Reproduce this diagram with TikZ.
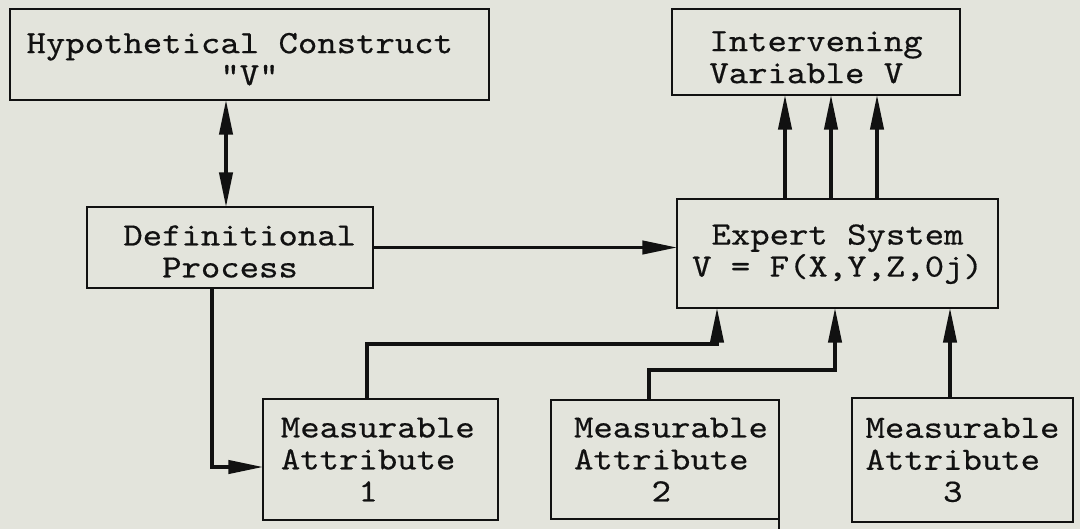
\documentclass[tikz,border=0pt]{standalone}
\usepackage{fontspec}
\usetikzlibrary{arrows.meta}
\newfontfamily\tw{lmmono10-regular}[Extension=.otf,FakeStretch=1.135,FakeBold=0.45]
\definecolor{bg}{RGB}{227,228,220}
\definecolor{ink}{RGB}{17,17,17}
\begin{document}
\begin{tikzpicture}[x=0.75pt,y=-0.75pt,
  box/.style={draw=ink, line width=2pt, inner sep=0pt, outer sep=0pt},
  txt/.style={inner sep=0pt, outer sep=0pt, text=ink,
    font={\tw\fontsize{24.4pt}{24pt}\selectfont}},
  conn/.style={draw=ink, line width=2.4pt, -{Triangle[length=26pt,width=10pt]}},
  dbl/.style={draw=ink, line width=2.4pt, {Triangle[length=26pt,width=10pt]}-{Triangle[length=26pt,width=10pt]}},
  plain/.style={draw=ink, line width=2pt}]
\useasboundingbox (0,0) rectangle (1080,529);
\fill[bg] (0,0) rectangle (1080,529);

% boxes
\node[box, minimum width=359.25pt, minimum height=68.25pt] (hyp) at (249.5,54.5) {};
\node[box, minimum width=214.5pt, minimum height=60.75pt] (def) at (230,247.5) {};
\node[box, minimum width=216pt, minimum height=64.5pt] (int) at (816,52) {};
\node[box, minimum width=240.75pt, minimum height=81.75pt] (exp) at (837.5,253.5) {};
\node[box, minimum width=176.25pt, minimum height=90.75pt] (ma1) at (380.5,459.5) {};
\node[box, minimum width=171pt, minimum height=89.25pt] (ma2) at (665,459.5) {};
\node[box, minimum width=165.75pt, minimum height=93pt] (ma3) at (962.5,460) {};

% texts
\node[txt, align=center] (hypt) at ([yshift=-3.5pt]hyp.center)
  {Hypothetical Construct\hphantom{X}\\"V"};
\node[txt, align=center] (deft) at ([yshift=-3pt]def.center)
  {\hphantom{X}Definitional\\Process};
\node[txt, align=left] (intt) at ([yshift=-4pt]int.center)
  {Intervening\\Variable V};
\node[txt, align=center] (expt) at ([yshift=-0.5pt]exp.center)
  {Expert System\\V = F(X,Y,Z,0j)};
\node[txt, align=left] (ma1t) at ([xshift=-2pt]ma1.center)
  {Measurable\\Attribute\\\hphantom{XXXX}1};
\node[txt, align=left] (ma2t) at ([xshift=4.5pt]ma2.center)
  {Measurable\\Attribute\\\hphantom{XXXX}2};
\node[txt, align=left] (ma3t) at (ma3.center)
  {Measurable\\Attribute\\\hphantom{XXXX}3};

% connectors
\draw[dbl] (226,0 |- hyp.south) -- (226,0 |- def.north);
\draw[conn] (def.east) -- (def.east -| exp.west);
\draw[conn] (212,0 |- def.south) |- (ma1.west |- 0,467);
\draw[conn] (367,0 |- ma1.north) -- (367,344) -- (717,344) -- (717,0 |- exp.south);
\draw[conn] (649,0 |- ma2.north) -- (649,370) -- (835,370) -- (835,0 |- exp.south);
\draw[conn] (950,0 |- ma3.north) -- (950,0 |- exp.south);
\draw[conn] (785,0 |- exp.north) -- (785,0 |- int.south);
\draw[conn] (831,0 |- exp.north) -- (831,0 |- int.south);
\draw[conn] (877,0 |- exp.north) -- (877,0 |- int.south);
\coordinate (cut) at (779,529);
\draw[plain] (ma2.south east) -- (cut);
\end{tikzpicture}
\end{document}
